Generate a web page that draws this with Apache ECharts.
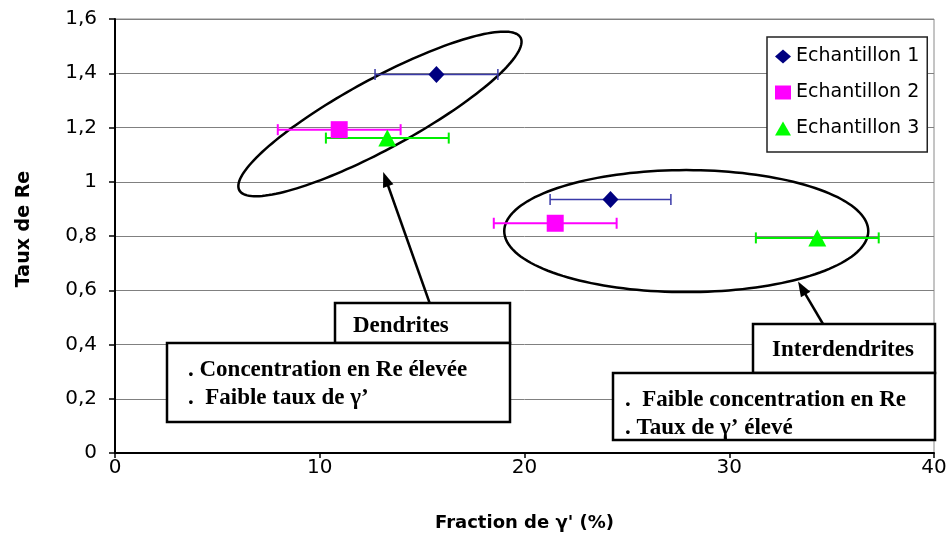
<!DOCTYPE html>
<html>
<head>
<meta charset="utf-8">
<script src="https://cdn.jsdelivr.net/npm/echarts@6/dist/echarts.min.js"></script>
<style>
  html, body { margin: 0; padding: 0; background: #fff; }
  #chart { width: 951px; height: 549px; }
</style>
</head>
<body>
<div id="chart"></div>
<script>
// Samples and measured values: gamma' fraction (%) vs Re ratio, with x error
const seriesNames = ['Echantillon 1', 'Echantillon 2', 'Echantillon 3'];
const gammaSample1 = [15.7, 24.2];
const reSample1 = [1.395, 0.935];
const errSample1 = [3.0, 2.95];
const gammaSample2 = [10.95, 21.5];
const reSample2 = [1.192, 0.847];
const errSample2 = [3.0, 3.0];
const gammaSample3 = [13.3, 34.3];
const reSample3 = [1.161, 0.793];
const errSample3 = [3.0, 3.0];

const yTickLabels = ['0', '0,2', '0,4', '0,6', '0,8', '1', '1,2', '1,4', '1,6'];
const xTickLabels = ['0', '10', '20', '30', '40'];

const samples = [
  { x: gammaSample1, y: reSample1, err: errSample1 },
  { x: gammaSample2, y: reSample2, err: errSample2 },
  { x: gammaSample3, y: reSample3, err: errSample3 }
];

const markerColors = ['#000080', '#ff00ff', '#00ff00'];
const barColors = ['#3a3aa8', '#ff00ff', '#00ee00'];
const barWidths = [1.5, 2, 2];
const markerShapes = ['diamond', 'rect', 'triangle'];
const markerSizes = [[16, 17], [17, 17], [18, 17]];

const sansFont = '"DejaVu Sans", "Liberation Sans", Arial, sans-serif';
const serifFont = '"Liberation Serif", "Times New Roman", serif';

const chart = echarts.init(document.getElementById('chart'), null, { renderer: 'canvas' });

const series = [];
samples.forEach((s, i) => {
  series.push({
    type: 'custom',
    z: 4,
    silent: true,
    data: s.x.map((x, k) => [x, s.y[k], x - s.err[k], x + s.err[k]]),
    encode: { x: 0, y: 1 },
    renderItem: function (params, api) {
      const y = api.value(1);
      const lo = api.coord([api.value(2), y]);
      const hi = api.coord([api.value(3), y]);
      const cap = 5.5;
      const style = { stroke: barColors[i], lineWidth: barWidths[i] };
      return {
        type: 'group',
        children: [
          { type: 'line', shape: { x1: lo[0], y1: lo[1], x2: hi[0], y2: hi[1] }, style: style },
          { type: 'line', shape: { x1: lo[0], y1: lo[1] - cap, x2: lo[0], y2: lo[1] + cap }, style: style },
          { type: 'line', shape: { x1: hi[0], y1: hi[1] - cap, x2: hi[0], y2: hi[1] + cap }, style: style }
        ]
      };
    }
  });
});
samples.forEach((s, i) => {
  series.push({
    type: 'scatter',
    name: seriesNames[i],
    z: 6,
    symbol: markerShapes[i],
    symbolSize: markerSizes[i],
    itemStyle: { color: markerColors[i], opacity: 1 },
    data: s.x.map((x, k) => [x, s.y[k]])
  });
});

const option = {
  animation: false,
  backgroundColor: '#ffffff',
  grid: {
    left: 115, right: 17, top: 19, bottom: 96,
    show: true, borderColor: '#8a8a8a', borderWidth: 1, backgroundColor: 'transparent'
  },
  legend: {
    data: seriesNames.map((n, i) => ({ name: n, icon: markerShapes[i] })),
    orient: 'vertical',
    left: 767, top: 37,
    backgroundColor: '#ffffff',
    borderColor: '#222',
    borderWidth: 1.5,
    borderRadius: 0,
    padding: [10, 8, 14, 8],
    itemGap: 17,
    itemWidth: 16,
    itemHeight: 14,
    textStyle: { fontFamily: sansFont, fontSize: 19, color: '#000' }
  },
  xAxis: {
    type: 'value', min: 0, max: 40, interval: 10,
    name: "Fraction de γ' (%)",
    nameLocation: 'middle', nameGap: 61,
    nameTextStyle: { fontFamily: sansFont, fontWeight: 'bold', fontSize: 18, color: '#000' },
    axisLine: { show: true, onZero: false, lineStyle: { color: '#000', width: 2 } },
    axisTick: { show: true, length: 5, lineStyle: { color: '#000', width: 1.5 } },
    splitLine: { show: false },
    axisLabel: {
      fontFamily: sansFont, fontSize: 20, color: '#000', margin: 5,
      formatter: v => xTickLabels[Math.round(v / 10)]
    }
  },
  yAxis: {
    type: 'value', min: 0, max: 1.6, interval: 0.2,
    axisLine: { show: true, onZero: false, lineStyle: { color: '#000', width: 2 } },
    axisTick: { show: true, length: 6, lineStyle: { color: '#000', width: 1.5 } },
    splitLine: { show: true, lineStyle: { color: '#808080', width: 1 } },
    axisLabel: {
      fontFamily: sansFont, fontSize: 20, color: '#000', margin: 18,
      formatter: v => yTickLabels[Math.round(v / 0.2)]
    }
  },
  series: series
};

chart.setOption(option);

// ---- annotations: zone outlines, callout boxes and arrows ----
function ellipsePoints(c, rx, ry, deg) {
  const t = deg * Math.PI / 180, pts = [];
  for (let k = 0; k < 160; k++) {
    const a = 2 * Math.PI * k / 160;
    const ex = rx * Math.cos(a), ey = ry * Math.sin(a);
    pts.push([c[0] + ex * Math.cos(t) + ey * Math.sin(t), c[1] - ex * Math.sin(t) + ey * Math.cos(t)]);
  }
  return pts;
}

function arrow(from, to) {
  const dx = to[0] - from[0], dy = to[1] - from[1];
  const L = Math.hypot(dx, dy), ux = dx / L, uy = dy / L;
  const head = 15, half = 5.5;
  const bx = to[0] - ux * head, by = to[1] - uy * head;
  return [
    { type: 'line', z: 8, shape: { x1: from[0], y1: from[1], x2: bx + ux * 2, y2: by + uy * 2 },
      style: { stroke: '#000', lineWidth: 2.5 } },
    { type: 'polygon', z: 8, shape: { points: [to, [bx - uy * half, by + ux * half], [bx + uy * half, by - ux * half]] },
      style: { fill: '#000' } }
  ];
}

function box(x, y, w, h) {
  return { type: 'rect', z: 10, shape: { x: x, y: y, width: w, height: h },
    style: { fill: '#fff', stroke: '#000', lineWidth: 2.5 } };
}

function label(text, x, y, align) {
  return { type: 'text', z: 11, style: {
    text: text, x: x, y: y, fill: '#000',
    font: 'bold 23px ' + serifFont,
    textAlign: align, align: align, textVerticalAlign: 'middle', verticalAlign: 'middle'
  } };
}

const toPx = p => chart.convertToPixel({ gridIndex: 0 }, p);

const dendriteZone = { center: [12.94, 1.25], rx: 160, ry: 35, angle: 28.5 };
const interZone = { center: [27.9, 0.818], rx: 182, ry: 61, angle: 0 };
const dendriteArrowTip = [13.1, 1.036];
const interArrowTip = [33.36, 0.632];

const graphics = [];
[dendriteZone, interZone].forEach(z => {
  graphics.push({
    type: 'polygon', z: 3,
    shape: { points: ellipsePoints(toPx(z.center), z.rx, z.ry, z.angle) },
    style: { fill: 'none', stroke: '#000', lineWidth: 2.5 }
  });
});
graphics.push(...arrow([430, 304], toPx(dendriteArrowTip)));
graphics.push(...arrow([823, 324], toPx(interArrowTip)));

// y-axis title
graphics.push({
  type: 'text', z: 5, x: 24, y: 229, rotation: Math.PI / 2,
  style: {
    text: 'Taux de Re', fill: '#000',
    font: 'bold 19px ' + sansFont,
    textAlign: 'center', align: 'center', textVerticalAlign: 'middle', verticalAlign: 'middle'
  }
});

// Dendrites callout
graphics.push(box(335, 303, 175, 40));
graphics.push(box(167, 343, 343, 79));
graphics.push(label('Dendrites', 353, 326, 'left'));
graphics.push(label('. Concentration en Re élevée', 188, 370, 'left'));
graphics.push(label('.  Faible taux de γ’', 188, 398, 'left'));

// Interdendrites callout
graphics.push(box(753, 324, 182, 49));
graphics.push(box(613, 373, 322, 67));
graphics.push(label('Interdendrites', 843, 350, 'center'));
graphics.push(label('.  Faible concentration en Re', 625, 400, 'left'));
graphics.push(label('. Taux de γ’ élevé', 625, 428, 'left'));

chart.setOption({ graphic: { elements: graphics } });
</script>
</body>
</html>
